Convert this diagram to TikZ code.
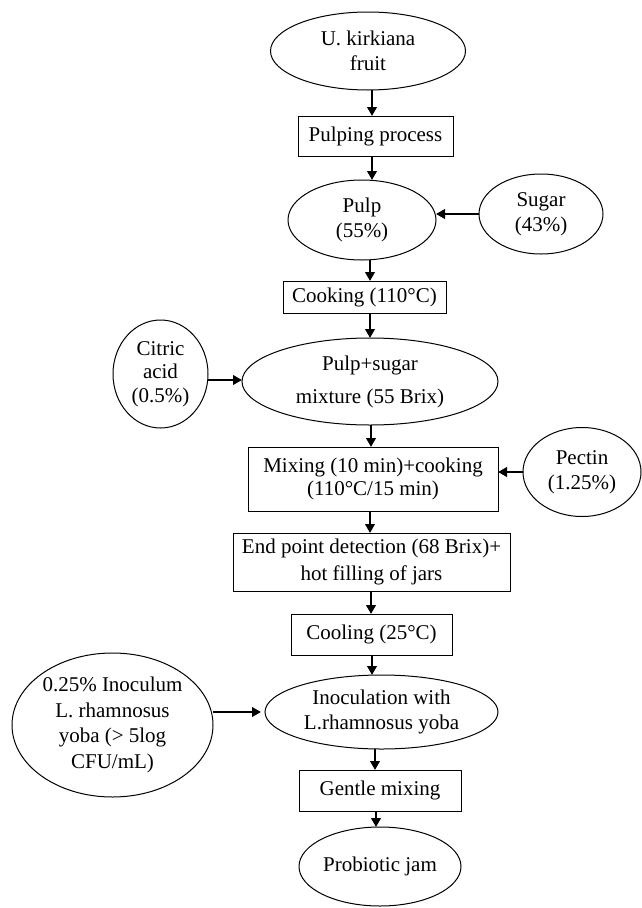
\documentclass[tikz,border=0pt]{standalone}
\usepackage{fontspec}
\setmainfont{Liberation Serif}
\usetikzlibrary{shapes.geometric,arrows.meta,calc}
\begin{document}
\begin{tikzpicture}[x=1pt,y=-1pt,
 ell/.style={draw,ellipse,line width=1pt,inner sep=0pt,outer sep=0pt},
 box/.style={draw,rectangle,line width=1pt,inner sep=0pt,outer sep=0pt},
 txt/.style={align=center,font=\fontsize{21}{25}\selectfont,inner sep=0pt},
 arr/.style={line width=2.2pt,-{Triangle[length=9pt,width=9.5pt]}}]
\useasboundingbox (0,0) rectangle (641,908);
% shapes
\node[ell,minimum width=195pt,minimum height=78pt] (fruit) at (368,51) {};
\node[box,minimum width=155pt,minimum height=40pt] (pulping) at (375.5,136) {};
\node[ell,minimum width=148pt,minimum height=80pt] (pulp) at (362,220) {};
\node[ell,minimum width=124pt,minimum height=80pt] (sugar) at (541,214) {};
\node[box,minimum width=163pt,minimum height=32pt] (cooking) at (364.5,297) {};
\node[ell,minimum width=256pt,minimum height=87pt] (mixture) at (370,381.5) {};
\node[ell,minimum width=95pt,minimum height=108pt] (citric) at (160.5,374) {};
\node[box,minimum width=250pt,minimum height=64pt] (mixing) at (373,479) {};
\node[ell,minimum width=118pt,minimum height=89pt] (pectin) at (582,472) {};
\node[box,minimum width=277pt,minimum height=58pt] (endpt) at (371.5,562) {};
\node[box,minimum width=161pt,minimum height=41pt] (cooling) at (371.5,634.5) {};
\node[ell,minimum width=233pt,minimum height=74pt] (inoc) at (381.5,712) {};
\node[ell,minimum width=201pt,minimum height=144pt] (inoculum) at (112.5,725) {};
\node[box,minimum width=162pt,minimum height=41pt] (gentle) at (380,790.5) {};
\node[ell,minimum width=162pt,minimum height=79pt] (jam) at (380,866.5) {};
% texts
\node[txt] (tfruit) at (fruit) {U. kirkiana\\fruit};
\node[txt] (tpulping) at (pulping) {Pulping process};
\node[txt] (tpulp) at (pulp) {Pulp\\(55\%)};
\node[txt] (tsugar) at (sugar) {Sugar\\(43\%)};
\node[txt] (tcooking) at (cooking) {Cooking (110°C)};
\node[txt,font=\fontsize{21}{33}\selectfont] (tmixture) at (mixture) {Pulp+sugar\\mixture (55 Brix)};
\node[txt,font=\fontsize{21}{23.5}\selectfont] (tcitric) at (citric) {Citric\\acid\\(0.5\%)};
\node[txt,font=\fontsize{21}{23}\selectfont] (tmixing) at (mixing) {Mixing (10 min)+cooking\\(110°C/15 min)};
\node[txt] (tpectin) at (pectin) {Pectin\\(1.25\%)};
\node[txt,font=\fontsize{21}{27}\selectfont] (tendpt) at (endpt) {End point detection (68 Brix)+\\hot filling of jars};
\node[txt] (tcooling) at (cooling) {Cooling (25°C)};
\node[txt] (tinoc) at (inoc) {Inoculation with\\L.rhamnosus yoba};
\node[txt,font=\fontsize{21}{25.5}\selectfont] (tinoculum) at (inoculum) {0.25\% Inoculum\\L. rhamnosus\\yoba (> 5log\\CFU/mL)};
\node[txt] (tgentle) at (gentle) {Gentle mixing};
\node[txt] (tjam) at (jam) {Probiotic jam};
% vertical arrows
\draw[arr] ([xshift=4pt]fruit.south) -- ([xshift=4pt]fruit.south |- pulping.north);
\draw[arr] ([xshift=-3.5pt]pulping.south) -- ([xshift=-3.5pt]pulping.south |- pulp.north);
\draw[arr] ([xshift=8pt]pulp.south) -- ([xshift=8pt]pulp.south |- cooking.north);
\draw[arr] ([xshift=5.5pt]cooking.south) -- ([xshift=5.5pt]cooking.south |- mixture.north);
\draw[arr] ([xshift=1pt]mixture.south) -- ([xshift=1pt]mixture.south |- mixing.north);
\draw[arr] ([xshift=-3pt]mixing.south) -- ([xshift=-3pt]mixing.south |- endpt.north);
\draw[arr] ([xshift=-0.5pt]endpt.south) -- ([xshift=-0.5pt]endpt.south |- cooling.north);
\draw[arr] ([xshift=0.5pt]cooling.south) -- ([xshift=0.5pt]cooling.south |- inoc.north);
\draw[arr] ([xshift=-6.5pt]inoc.south) -- ([xshift=-6.5pt]inoc.south |- gentle.north);
\draw[arr] ([xshift=-4pt]gentle.south) -- ([xshift=-4pt]gentle.south |- jam.north);
% horizontal arrows
\draw[arr] (sugar.west) -- (sugar.west -| pulp.east);
\draw[arr] ([yshift=1.5pt]mixture.west -| citric.east) -- ([yshift=1.5pt]mixture.west);
\draw[arr] (pectin.west) -- (pectin.west -| mixing.east);
\draw[arr] ([yshift=13pt]inoculum.east) -- ([yshift=13pt,xshift=-4pt]inoculum.east -| inoc.west);
\end{tikzpicture}
\end{document}
